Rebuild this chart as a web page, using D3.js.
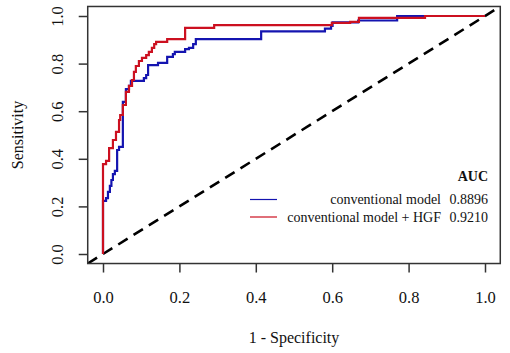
<!DOCTYPE html>
<html>
<head>
<meta charset="utf-8">
<script src="https://cdn.jsdelivr.net/npm/d3@7"></script>
<style>
  html, body { margin: 0; padding: 0; background: #fff; }
  svg { display: block; }
  text { font-family: "Liberation Serif", "Times New Roman", serif; fill: #111; }
</style>
</head>
<body>
<svg id="chart" width="510" height="353"></svg>
<script>
// ---- Data ----
const xTicks = [0, 0.2, 0.4, 0.6, 0.8, 1.0];
const yTicks = [0, 0.2, 0.4, 0.6, 0.8, 1.0];

// conventional model (blue) ROC vertices: 1 - specificity, sensitivity
const convFpr = [0,0,0.008,0.008,0.013,0.013,0.018,0.018,0.022,0.022,0.026,0.026,0.031,0.031,0.037,0.037,0.042,0.042,0.052,0.052,0.060,0.060,0.068,0.068,0.073,0.073,0.107,0.107,0.113,0.113,0.118,0.118,0.144,0.144,0.168,0.168,0.183,0.183,0.188,0.188,0.215,0.215,0.225,0.225,0.236,0.236,0.243,0.243,0.414,0.414,0.581,0.581,0.597,0.597,0.601,0.601,0.668,0.668,0.770,0.770,1];
const convTpr = [0,0.223,0.223,0.235,0.235,0.261,0.261,0.286,0.286,0.311,0.311,0.336,0.336,0.349,0.349,0.437,0.437,0.450,0.450,0.639,0.639,0.693,0.693,0.706,0.706,0.727,0.727,0.739,0.739,0.752,0.752,0.794,0.794,0.803,0.803,0.828,0.828,0.840,0.840,0.849,0.849,0.861,0.861,0.866,0.866,0.882,0.882,0.903,0.903,0.935,0.935,0.947,0.947,0.958,0.958,0.973,0.973,0.981,0.981,1,1];

// conventional model + HGF (red)
const hgfFpr = [0,0,0.008,0.008,0.016,0.016,0.026,0.026,0.034,0.034,0.042,0.042,0.045,0.045,0.052,0.052,0.060,0.060,0.068,0.068,0.076,0.076,0.081,0.081,0.086,0.086,0.094,0.094,0.102,0.102,0.113,0.113,0.120,0.120,0.128,0.128,0.134,0.134,0.139,0.139,0.168,0.168,0.215,0.215,0.291,0.291,0.599,0.599,0.647,0.647,0.670,0.670,0.843,0.843,1];
const hgfTpr = [0,0.378,0.378,0.391,0.391,0.445,0.445,0.479,0.479,0.513,0.513,0.563,0.563,0.584,0.584,0.626,0.626,0.681,0.681,0.706,0.706,0.731,0.731,0.765,0.765,0.790,0.790,0.811,0.811,0.824,0.824,0.836,0.836,0.849,0.849,0.866,0.866,0.882,0.882,0.891,0.891,0.903,0.903,0.950,0.950,0.962,0.962,0.971,0.971,0.975,0.975,0.992,0.992,1,1];

const legendLabels = ["conventional model", "conventional model + HGF"];
const aucValues = ["0.8896", "0.9210"];
const seriesColors = ["#1414b0", "#cc1020"];

// ---- Layout ----
const svg = d3.select("#chart");
const x = d3.scaleLinear().domain([0, 1]).range([103, 485]);
const y = d3.scaleLinear().domain([0, 1]).range([254, 16]);
const x0 = x(-0.04), x1 = x(1.04), y0 = y(-0.04), y1 = y(1.04);

svg.append("defs").append("clipPath").attr("id", "clip")
  .append("rect").attr("x", x0).attr("y", y1).attr("width", x1 - x0).attr("height", y0 - y1);

// diagonal reference line
svg.append("line")
  .attr("clip-path", "url(#clip)")
  .attr("x1", x(-0.04)).attr("y1", y(-0.04))
  .attr("x2", x(1.04)).attr("y2", y(1.04))
  .attr("stroke", "#000").attr("stroke-width", 2.6)
  .attr("stroke-dasharray", "11,7");

const line = d3.line().x(d => x(d[0])).y(d => y(d[1]));
const series = [
  d3.zip(convFpr, convTpr),
  d3.zip(hgfFpr, hgfTpr)
];
series.forEach((s, i) => {
  svg.append("path").datum(s)
    .attr("clip-path", "url(#clip)")
    .attr("d", line)
    .attr("fill", "none")
    .attr("stroke", seriesColors[i])
    .attr("stroke-width", 2.2)
    .attr("stroke-linejoin", "miter");
});

// box
svg.append("rect")
  .attr("x", x0).attr("y", y1).attr("width", x1 - x0).attr("height", y0 - y1)
  .attr("fill", "none").attr("stroke", "#333").attr("stroke-width", 1.5);

// x axis
const gx = svg.append("g").attr("transform", `translate(0,${y0})`)
  .call(d3.axisBottom(x).tickValues(xTicks).tickFormat(d3.format(".1f")).tickSize(9));
gx.select(".domain").remove();
gx.selectAll("line").attr("stroke", "#333").attr("stroke-width", 1.5);
gx.selectAll("text").attr("y", 39.5).attr("dy", 0)
  .style("font-family", "'Liberation Serif', serif").style("font-size", "16.5px").attr("fill", "#111");

// y axis
const gy = svg.append("g").attr("transform", `translate(${x0},0)`)
  .call(d3.axisLeft(y).tickValues(yTicks).tickFormat(d3.format(".1f")).tickSize(9));
gy.select(".domain").remove();
gy.selectAll("line").attr("stroke", "#333").attr("stroke-width", 1.5);
gy.selectAll("text")
  .attr("transform", "rotate(-90)")
  .attr("x", 0).attr("y", -24.5).attr("dy", 0)
  .attr("text-anchor", "middle")
  .style("font-family", "'Liberation Serif', serif").style("font-size", "16.5px").attr("fill", "#111");

// axis titles
svg.append("text").attr("x", (x0 + x1) / 2).attr("y", 343)
  .attr("text-anchor", "middle").style("font-size", "16px").text("1 - Specificity");
svg.append("text")
  .attr("transform", `translate(23,${(y0 + y1) / 2}) rotate(-90)`)
  .attr("text-anchor", "middle").style("font-size", "16px").text("Sensitivity");

// legend
svg.append("text").attr("x", 488).attr("y", 181)
  .attr("text-anchor", "end").style("font-size", "14px").style("font-weight", "bold").text("AUC");
const rowsY = [204, 221.5];
legendLabels.forEach((lab, i) => {
  svg.append("line")
    .attr("x1", 250).attr("x2", 277)
    .attr("y1", rowsY[i] - 4.5).attr("y2", rowsY[i] - 4.5)
    .attr("stroke", seriesColors[i]).attr("stroke-width", 1.2);
  svg.append("text").attr("x", 441).attr("y", rowsY[i])
    .attr("text-anchor", "end").style("font-size", "14px").text(lab);
  svg.append("text").attr("x", 488).attr("y", rowsY[i])
    .attr("text-anchor", "end").style("font-size", "14px").text(aucValues[i]);
});
</script>
</body>
</html>
